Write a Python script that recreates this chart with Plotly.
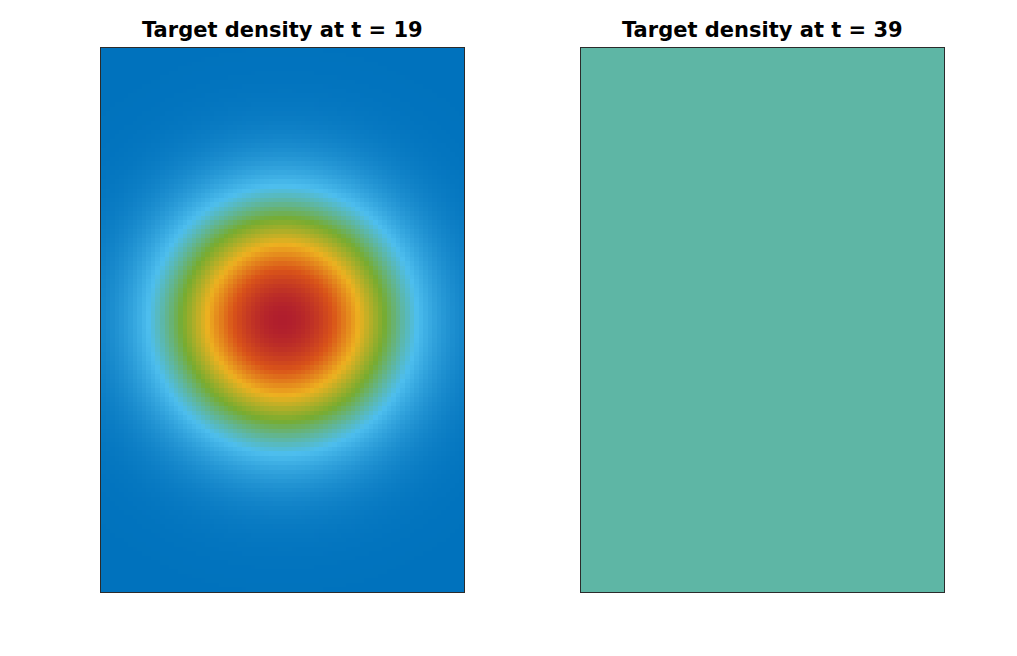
import numpy as np
import plotly.graph_objects as go

# --- data ---
titles = ["Target density at t = 19", "Target density at t = 39"]
grid_cols = 80
grid_rows = 120
peak_center_col = 39.6
peak_center_row = 59.5
peak_sigma_cells = 16.5
peak_value = 1.0
flat_value_t39 = 0.5

# MATLAB-like colour stops
color_stops = [
    [0.0, "rgb(0,114,189)"],
    [0.2, "rgb(77,190,238)"],
    [0.4, "rgb(119,172,48)"],
    [0.6, "rgb(237,177,32)"],
    [0.8, "rgb(217,83,25)"],
    [1.0, "rgb(176,30,45)"],
]
flat_color = "rgb(94,182,165)"

cols = np.arange(grid_cols)
rows = np.arange(grid_rows)
C, R = np.meshgrid(cols, rows)
density_t19 = peak_value * np.exp(-((C - peak_center_col) ** 2 + (R - peak_center_row) ** 2) / (2 * peak_sigma_cells ** 2))
density_t39 = np.full((grid_rows, grid_cols), flat_value_t39)

# page body has an 8px margin: work in window pixels, shifted by 8
OFF = 8
W, H = 1017 - 2 * OFF, 656 - 2 * OFF
fig = go.Figure()

fig.add_trace(go.Heatmap(z=density_t19, x=cols, y=rows, colorscale=color_stops, zmin=0, zmax=1,
                         showscale=False, xaxis="x", yaxis="y", hoverinfo="skip"))
fig.add_trace(go.Heatmap(z=density_t39, x=cols, y=rows, colorscale=[[0, flat_color], [1, flat_color]],
                         zmin=0, zmax=1, showscale=False, xaxis="x2", yaxis="y2", hoverinfo="skip"))

def px_x(p):
    return (p - OFF) / W

def px_y(p):
    return 1 - (p - OFF) / H

axis_common = dict(showgrid=False, zeroline=False, showticklabels=False, ticks="",
                   showline=True, mirror=True, linecolor="#2b2b2b", linewidth=1)

fig.update_layout(
    width=W, height=H,
    margin=dict(l=0, r=0, t=0, b=0),
    paper_bgcolor="white", plot_bgcolor="white",
    xaxis=dict(domain=[px_x(101), px_x(464)], range=[-0.5, grid_cols - 0.5], **axis_common),
    yaxis=dict(domain=[px_y(592), px_y(48)], range=[-0.5, grid_rows - 0.5], **axis_common),
    xaxis2=dict(domain=[px_x(581), px_x(944)], range=[-0.5, grid_cols - 0.5], anchor="y2", **axis_common),
    yaxis2=dict(domain=[px_y(592), px_y(48)], range=[-0.5, grid_rows - 0.5], anchor="x2", **axis_common),
    showlegend=False,
)

for t, cx in zip(titles, [(101 + 464) / 2, (581 + 944) / 2]):
    fig.add_annotation(text="<b>%s</b>" % t, x=px_x(cx), y=px_y(30), xref="paper", yref="paper",
                       showarrow=False, xanchor="center", yanchor="middle",
                       font=dict(family="DejaVu Sans", size=21, color="black"))

fig.write_html("out.html")
